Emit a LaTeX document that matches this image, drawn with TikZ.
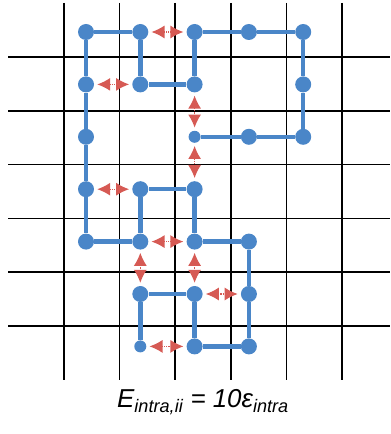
\documentclass[tikz,border=0pt]{standalone}
\usepackage{fontspec}
\setmainfont{Liberation Sans}
\usetikzlibrary{arrows.meta}
\definecolor{chainblue}{RGB}{74,134,200}
\definecolor{contactred}{RGB}{214,90,84}

\begin{document}
\begin{tikzpicture}[x=1bp, y=-1bp,
  gridline/.style={line width=1.6bp, black},
  bead/.style={circle, fill=chainblue, inner sep=0pt, minimum size=16bp},
  endbead/.style={circle, fill=chainblue, inner sep=0pt, minimum size=12bp},
  chain/.style={line width=4.5bp, chainblue},
  contact/.style={contactred, line width=1.2bp, densely dotted,
    {Latex[length=13bp,width=13bp]}-{Latex[length=13bp,width=13bp]},
    shorten <=3bp, shorten >=3bp}]
  \useasboundingbox (0,0) rectangle (390,434);
  % lattice
  \foreach \i in {0,...,5}
    \draw[gridline] (64+55.6*\i,3) -- (64+55.6*\i,380);
  \foreach \j in {0,...,5}
    \draw[gridline] (8,57+53.8*\j) -- (390,57+53.8*\j);
  % beads of the chain (column, row)
  \foreach \c/\r in {0/0,1/0,2/0,3/0,4/0, 0/1,1/1,2/1,4/1, 0/2,3/2,4/2,
                     0/3,1/3,2/3, 0/4,1/4,2/4,3/4, 1/5,2/5,3/5, 2/6,3/6}
    \node[bead] (b\c\r) at (86+54.3*\c,32+52.4*\r) {};
  \node[endbead] (b22) at (86+54.3*2,32+52.4*2) {};
  \node[endbead] (b16) at (86+54.3*1,32+52.4*6) {};
  % backbone
  \draw[chain] (b22) -- (b32) -- (b42) -- (b41) -- (b40) -- (b30) -- (b20)
    -- (b21) -- (b11) -- (b10) -- (b00) -- (b01) -- (b02) -- (b03) -- (b04)
    -- (b14) -- (b13) -- (b23) -- (b24) -- (b34) -- (b35) -- (b36) -- (b26)
    -- (b25) -- (b15) -- (b16);
  % contacts
  \draw[contact] (b10) -- (b20);
  \draw[contact] (b01) -- (b11);
  \draw[contact] (b21) -- (b22);
  \draw[contact] (b22) -- (b23);
  \draw[contact] (b03) -- (b13);
  \draw[contact] (b14) -- (b24);
  \draw[contact] (b14) -- (b15);
  \draw[contact] (b24) -- (b25);
  \draw[contact] (b25) -- (b35);
  \draw[contact] (b16) -- (b26);
  \node (energy) at (203,402)
    {\fontsize{26}{30}\selectfont\itshape E\textsubscript{intra,ii} = 10ε\textsubscript{intra}};
\end{tikzpicture}
\end{document}
